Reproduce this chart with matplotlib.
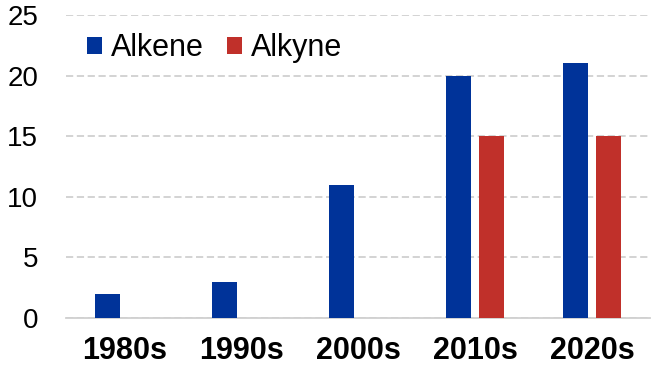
import numpy as np
import matplotlib
matplotlib.use("Agg")
import matplotlib.pyplot as plt

plt.rcParams['font.family'] = ['Liberation Sans', 'DejaVu Sans']

decades = ['1980s', '1990s', '2000s', '2010s', '2020s']
alkene = [2, 3, 11, 20, 21]
alkyne = [0, 0, 0, 15, 15]
y_ticks = [0, 5, 10, 15, 20, 25]

blue = '#003399'
red = '#c0302a'

fig = plt.figure(figsize=(6.67, 3.70), dpi=100)
ax = fig.add_axes([0.099, 0.1405, 0.876, 0.819])

x = np.arange(len(decades))
w = 0.215
off = 0.143
ax.bar(x - off, alkene, w, color=blue, label='Alkene', zorder=3)
ax.bar(x + off, alkyne, w, color=red, label='Alkyne', zorder=3)

ax.set_xlim(-0.5, len(decades) - 0.5)
ax.set_ylim(0, 25)
ax.set_yticks(y_ticks)
ax.set_xticks(x)
ax.set_xticklabels(decades, fontsize=22, fontweight='bold')
ax.tick_params(axis='y', labelsize=20, length=0, pad=20)
ax.tick_params(axis='x', length=0, pad=13)

ax.grid(axis='y', color='#d0d0d0', linestyle=(0, (4, 2)), linewidth=1.3, zorder=0)
for s in ['top', 'right', 'left']:
    ax.spines[s].set_visible(False)
ax.spines['bottom'].set_color('#d0d0d0')
ax.spines['bottom'].set_linewidth(1.3)

ax.legend(ncol=2, frameon=False, fontsize=22, loc='center left',
          bbox_to_anchor=(0.13, 0.87), bbox_transform=fig.transFigure,
          handlelength=0.5, handleheight=0.5, handletextpad=0.3,
          columnspacing=0.75, borderpad=0, borderaxespad=0)

fig.savefig('out.png', dpi=100)
